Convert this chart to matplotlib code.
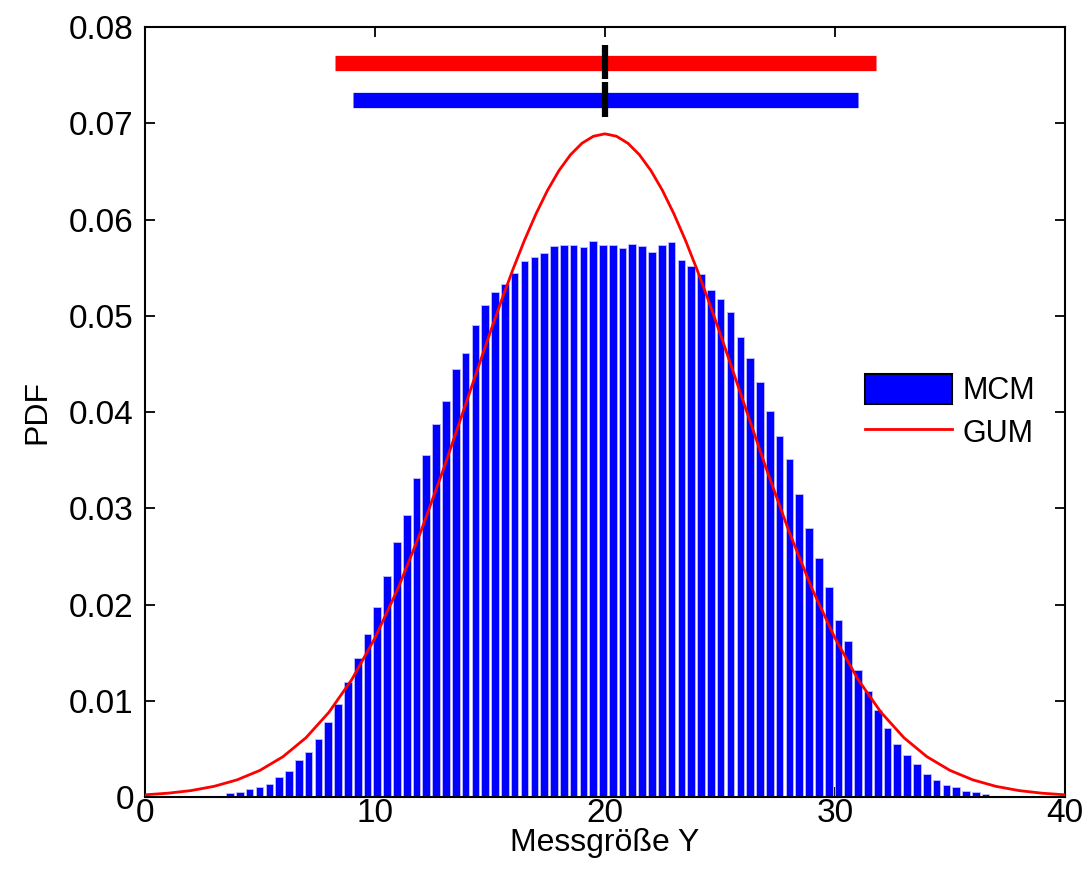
"""MCM-Histogramm gegen GUM-Normalverteilung der Messgröße Y."""
import matplotlib
matplotlib.use("Agg")
import matplotlib.pyplot as plt
from matplotlib.patches import Patch
from matplotlib.lines import Line2D

plt.rcParams['font.family'] = ['Liberation Sans', 'DejaVu Sans']

# Histogramm (MCM): Klassenmitten und Höhen
mcm_x = [3.70, 4.13, 4.55, 4.98, 5.41, 5.83, 6.26, 6.69, 7.11, 7.54,
         7.97, 8.39, 8.82, 9.25, 9.67, 10.10, 10.53, 10.95, 11.38, 11.81,
         12.23, 12.66, 13.09, 13.51, 13.94, 14.37, 14.79, 15.22, 15.65, 16.07,
         16.50, 16.93, 17.35, 17.78, 18.21, 18.63, 19.06, 19.49, 19.91, 20.34,
         20.77, 21.19, 21.62, 22.05, 22.47, 22.90, 23.33, 23.75, 24.18, 24.61,
         25.03, 25.46, 25.89, 26.31, 26.74, 27.17, 27.59, 28.02, 28.45, 28.87,
         29.30, 29.73, 30.15, 30.58, 31.01, 31.43, 31.86, 32.29, 32.71, 33.14,
         33.57, 33.99, 34.42, 34.85, 35.27, 35.70, 36.13, 36.55]
mcm_pdf = [0.0004, 0.0005, 0.0008, 0.0010, 0.0014, 0.0021, 0.0027, 0.0038, 0.0047, 0.0060,
           0.0078, 0.0097, 0.0120, 0.0144, 0.0169, 0.0197, 0.0230, 0.0265, 0.0293, 0.0331,
           0.0355, 0.0388, 0.0411, 0.0445, 0.0461, 0.0490, 0.0511, 0.0525, 0.0533, 0.0544,
           0.0557, 0.0561, 0.0565, 0.0572, 0.0574, 0.0574, 0.0571, 0.0578, 0.0573, 0.0574,
           0.0570, 0.0575, 0.0572, 0.0566, 0.0573, 0.0577, 0.0558, 0.0552, 0.0543, 0.0527,
           0.0517, 0.0504, 0.0478, 0.0456, 0.0431, 0.0401, 0.0375, 0.0351, 0.0315, 0.0279,
           0.0248, 0.0218, 0.0184, 0.0162, 0.0132, 0.0110, 0.0090, 0.0072, 0.0055, 0.0044,
           0.0034, 0.0024, 0.0018, 0.0012, 0.0010, 0.0006, 0.0005, 0.0003]
bin_width = 0.4267

gum_x = [0, 1, 2, 3, 4, 5, 6, 7, 8, 9, 10, 11, 12, 13, 14, 14.5, 15, 15.5, 16, 16.5,
         17, 17.5, 18, 18.5, 19, 19.5, 20, 20.5, 21, 21.5, 22, 22.5, 23, 23.5, 24, 24.5,
         25, 25.5, 26, 27, 28, 29, 30, 31, 32, 33, 34, 35, 36, 37, 38, 39, 40]
gum_pdf = [0.00023, 0.00040, 0.00067, 0.00111, 0.00178, 0.00277, 0.00419, 0.00616, 0.00881,
           0.01223, 0.01652, 0.02166, 0.02761, 0.03421, 0.04120, 0.04472, 0.04821, 0.05159,
           0.05482, 0.05784, 0.06058, 0.06302, 0.06508, 0.06672, 0.06792, 0.06865, 0.06890,
           0.06865, 0.06792, 0.06672, 0.06508, 0.06302, 0.06058, 0.05784, 0.05482, 0.05159,
           0.04821, 0.04472, 0.04120, 0.03421, 0.02761, 0.02166, 0.01652, 0.01223, 0.00881,
           0.00616, 0.00419, 0.00277, 0.00178, 0.00111, 0.00067, 0.00040, 0.00023]

# Überdeckungsintervalle und Schätzwert
gum_interval = [8.26, 31.78]
mcm_interval = [9.04, 31.00]
estimate_y = 20.0

fig = plt.figure(figsize=(10.9, 8.85), dpi=100)
ax = fig.add_axes([0.1330, 0.0994, 0.8440, 0.8701])

ax.bar(mcm_x, mcm_pdf, width=bin_width * 0.78, color='#0000ff',
       edgecolor='#c0c0ff', linewidth=0.6, zorder=2)
ax.plot(gum_x, gum_pdf, color='#ff0000', lw=2.0, zorder=3)

# Intervall-Balken oben
ax.plot(gum_interval, [0.0763, 0.0763], color='#ff0000', lw=11, solid_capstyle='butt', zorder=3)
ax.plot(mcm_interval, [0.0724, 0.0724], color='#0000ff', lw=11, solid_capstyle='butt', zorder=3)
ax.plot([estimate_y, estimate_y], [0.0746, 0.0781], color='black', lw=4.5, solid_capstyle='butt', zorder=4)
ax.plot([estimate_y, estimate_y], [0.0706, 0.0743], color='black', lw=4.5, solid_capstyle='butt', zorder=4)

ax.set_xlim(0, 40)
ax.set_ylim(0, 0.08)
ax.set_xticks([0, 10, 20, 30, 40])
ax.set_yticks([0, 0.01, 0.02, 0.03, 0.04, 0.05, 0.06, 0.07, 0.08])
ax.set_yticklabels(['0', '0.01', '0.02', '0.03', '0.04', '0.05', '0.06', '0.07', '0.08'])
ax.tick_params(direction='in', length=7, width=1.3, top=True, right=True, labelsize=24)
ax.tick_params(axis='y', pad=8)
ax.tick_params(axis='x', pad=1)
for sp in ax.spines.values():
    sp.set_linewidth(1.5)

ax.set_xlabel('Messgröße Y', fontsize=23, labelpad=-1)
ax.set_ylabel('PDF', fontsize=23, labelpad=12)

handles = [Patch(facecolor='#0000ff', edgecolor='black', linewidth=1.5),
           Line2D([0], [0], color='#ff0000', lw=2.0)]
ax.legend(handles, ['MCM', 'GUM'], loc='upper left', bbox_to_anchor=(0.769, 0.565),
          frameon=False, fontsize=22, handlelength=2.85, handleheight=1.1,
          handletextpad=0.35, labelspacing=0.35, borderaxespad=0)

fig.savefig('out.png', dpi=100)
